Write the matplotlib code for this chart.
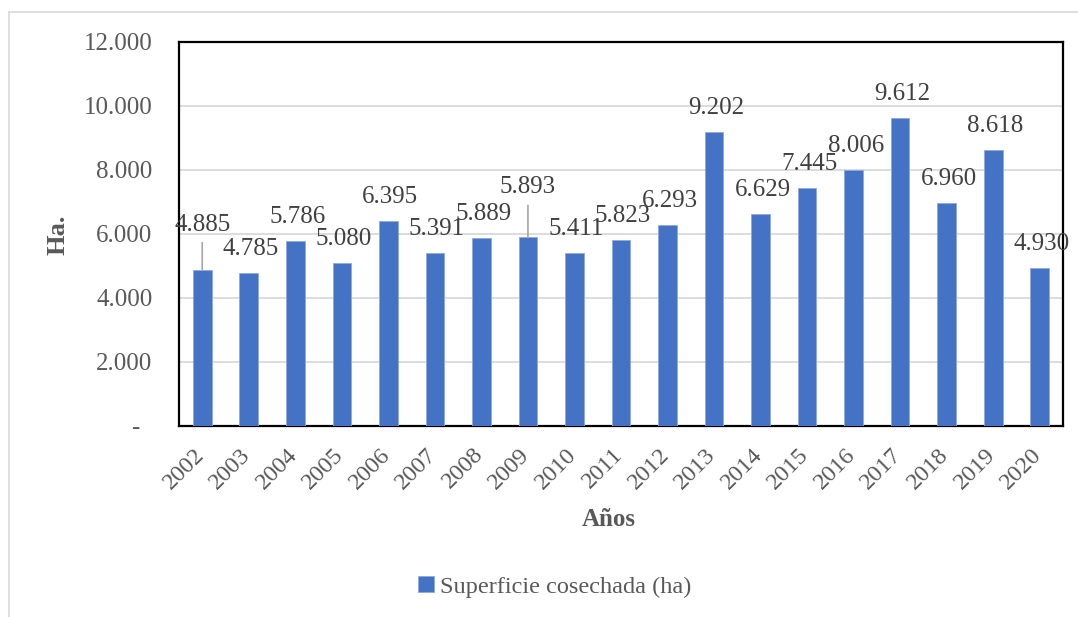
import matplotlib.pyplot as plt
from matplotlib.lines import Line2D
from matplotlib.transforms import ScaledTranslation

plt.rcParams.update({"font.family": ["Liberation Serif", "DejaVu Serif"]})

# ---- data ----
years = [str(y) for y in range(2002, 2021)]
harvested_ha = [4885, 4785, 5786, 5080, 6395, 5391, 5889, 5893, 5411, 5823,
                6293, 9202, 6629, 7445, 8006, 9612, 6960, 8618, 4930]
y_ticks = [0, 2000, 4000, 6000, 8000, 10000, 12000]
series_name = "Superficie cosechada (ha)"

BAR = "#4472C4"
TICK_C = "#595959"
LABEL_C = "#404040"
GRID_C = "#D9D9D9"


def fmt(v):
    return "-  " if v == 0 else f"{v:,}".replace(",", ".")


fig = plt.figure(figsize=(10.78, 6.17), dpi=100)
ax = fig.add_axes([179 / 1078, 1 - 426 / 617, (1063 - 179) / 1078, (426 - 42) / 617])

x = list(range(len(years)))
bars = ax.bar(x, harvested_ha, width=0.4, color=BAR, edgecolor="#8FAADC", linewidth=0.6,
              label=series_name, zorder=3)

ax.set_xlim(-0.5, len(years) - 0.5)
ax.set_ylim(0, 12000)
ax.set_yticks(y_ticks)
ax.set_yticklabels([fmt(v) for v in y_ticks])
ax.set_xticks(x)
ax.set_xticklabels(years, rotation=45, ha="right")
ax.tick_params(axis="y", length=0, pad=19, labelsize=18, labelcolor=TICK_C)
ax.tick_params(axis="x", length=0, pad=13, labelsize=17.5, labelcolor=TICK_C)
shift = ScaledTranslation(6 / 100, 0, fig.dpi_scale_trans)
for lab in ax.get_xticklabels():
    lab.set_transform(lab.get_transform() + shift)
ax.yaxis.grid(True, color=GRID_C, linewidth=1.3, zorder=0)
ax.set_axisbelow(True)
for s in ax.spines.values():
    s.set_color("black")
    s.set_linewidth(1.6)

# data labels; two of them were dragged up in the original and keep leader lines
moved = {0: 45, 7: 50}
for i, v in enumerate(harvested_ha):
    if i in moved:
        ax.annotate(fmt(v), xy=(i, v), xytext=(0, moved[i]), textcoords="offset pixels",
                    ha="center", va="center", fontsize=18, color=LABEL_C, zorder=4,
                    arrowprops=dict(arrowstyle="-", color="#A6A6A6", lw=1.2,
                                    shrinkA=3, shrinkB=0))
    else:
        ax.annotate(fmt(v), xy=(i, v), xytext=(2, 24), textcoords="offset pixels",
                    ha="center", va="center", fontsize=18, color=LABEL_C, zorder=4)

fig.text(58 / 1078, 1 - 235 / 617, "Ha.", rotation=90, ha="center", va="center",
         fontsize=19, fontweight="bold", color=TICK_C)
fig.text(609 / 1078, 1 - 520 / 617, "Años", ha="center", va="center",
         fontsize=18, fontweight="bold", color=TICK_C)

fig.legend(handles=[bars], labels=[series_name], loc="center",
           bbox_to_anchor=(555 / 1078, 1 - 587 / 617), frameon=False,
           fontsize=17.5, labelcolor=TICK_C, handlelength=0.65, handleheight=0.65,
           handletextpad=0.25)

# light chart-area border (cropped on the right and bottom in the original)
fig.add_artist(Line2D([9 / 1078, 1], [1 - 12 / 617, 1 - 12 / 617], color=GRID_C, lw=1.2))
fig.add_artist(Line2D([9 / 1078, 9 / 1078], [0, 1 - 12 / 617], color=GRID_C, lw=1.2))

fig.savefig("out.png", dpi=100)
